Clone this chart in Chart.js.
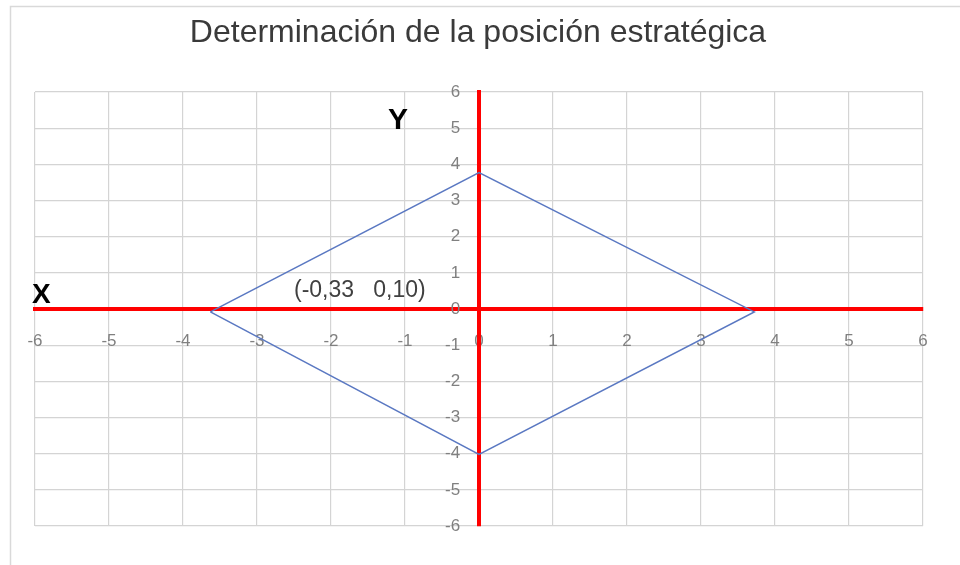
<!DOCTYPE html>
<html><head><meta charset="utf-8">
<script src="https://cdn.jsdelivr.net/npm/chart.js@4/dist/chart.umd.min.js"></script>
<style>html,body{margin:0;padding:0;background:#fff}#wrap{width:960px;height:565px}</style>
</head><body><div id="wrap"><canvas id="c" width="960" height="565"></canvas></div>
<script>
const titleText = 'Determinación de la posición estratégica';
const xTickValues = [-6, -5, -4, -3, -2, -1, 0, 1, 2, 3, 4, 5, 6];
const yTickValues = [-6, -5, -4, -3, -2, -1, 0, 1, 2, 3, 4, 5, 6];
const polygonX = [-3.63, 0, 3.72, 0, -3.63];
const polygonY = [-0.08, 3.77, -0.08, -4.02, -0.08];
const axisNameX = 'X';
const axisNameY = 'Y';
const annotationText = '(-0,33   0,10)';

const FONT = '"Liberation Sans", Arial, sans-serif';

const points = polygonX.map((x, i) => ({x: x, y: polygonY[i]}));

const textPlugin = {
  id: 'texts',
  beforeDraw(chart) {
    const ctx = chart.ctx;
    ctx.save();
    ctx.fillStyle = '#ffffff';
    ctx.fillRect(0, 0, chart.width, chart.height);
    ctx.strokeStyle = '#d9d9d9';
    ctx.lineWidth = 1.5;
    ctx.beginPath();
    ctx.moveTo(10.5, chart.height);
    ctx.lineTo(10.5, 6.5);
    ctx.lineTo(chart.width, 6.5);
    ctx.stroke();
    ctx.restore();
  },
  afterDraw(chart) {
    const ctx = chart.ctx;
    const xs = chart.scales.x, ys = chart.scales.y;
    ctx.save();
    ctx.textBaseline = 'alphabetic';
    ctx.fillStyle = '#3a3a3a';
    ctx.font = '32px ' + FONT;
    ctx.textAlign = 'center';
    ctx.fillText(titleText, 478, 42);

    ctx.fillStyle = '#000000';
    ctx.font = 'bold 28px ' + FONT;
    ctx.textAlign = 'left';
    ctx.fillText(axisNameX, 32, 303);
    ctx.font = 'bold 30px ' + FONT;
    ctx.fillText(axisNameY, 388, 129);

    ctx.fillStyle = '#404040';
    ctx.font = '23px ' + FONT;
    ctx.textAlign = 'left';
    ctx.fillText(annotationText, xs.getPixelForValue(-2.5), ys.getPixelForValue(0) - 12);
    ctx.restore();
  }
};

new Chart(document.getElementById('c'), {
  type: 'scatter',
  data: {
    datasets: [{
      data: points,
      showLine: true,
      borderColor: '#5a78c2',
      borderWidth: 1.5,
      pointRadius: 0,
      fill: false,
      tension: 0
    }]
  },
  options: {
    responsive: false,
    devicePixelRatio: 1,
    animation: false,
    layout: {padding: {left: 35, right: 37, top: 92, bottom: 39}},
    plugins: {legend: {display: false}, tooltip: {enabled: false}, title: {display: false}},
    scales: {
      x: {
        type: 'linear', min: -6, max: 6,
        position: {y: 0},
        afterBuildTicks: (s) => { s.ticks = xTickValues.map(v => ({value: v})); },
        ticks: {color: '#808080', font: {family: FONT, size: 17}, padding: 22, maxRotation: 0, autoSkip: false},
        grid: {color: '#d4d4d4', lineWidth: 1.2, drawTicks: false},
        border: {color: '#ff0000', width: 4}
      },
      y: {
        type: 'linear', min: -6, max: 6,
        position: {x: 0},
        afterBuildTicks: (s) => { s.ticks = yTickValues.map(v => ({value: v})); },
        ticks: {color: '#808080', font: {family: FONT, size: 17}, padding: 0, autoSkip: false,
                callback: (v) => String(v) + '    '},
        grid: {color: '#d4d4d4', lineWidth: 1.2, drawTicks: false},
        border: {color: '#ff0000', width: 4}
      }
    }
  },
  plugins: [textPlugin]
});
</script>
</body></html>
